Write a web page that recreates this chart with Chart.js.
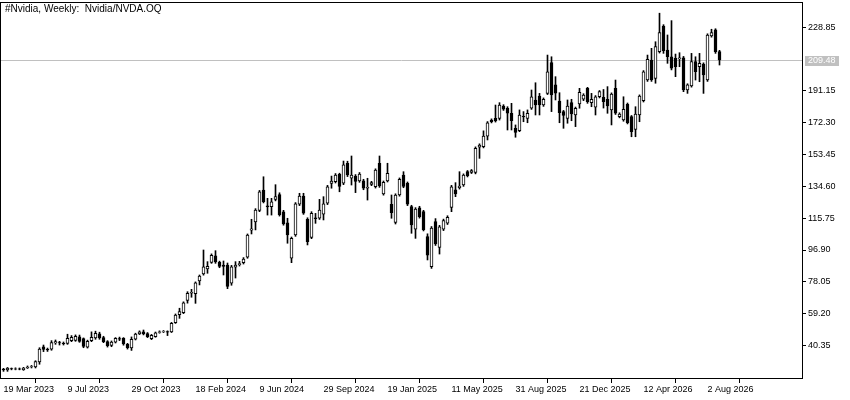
<!DOCTYPE html>
<html><head><meta charset="utf-8">
<style>html,body{margin:0;padding:0;background:#fff;}#wrap{width:850px;height:400px;}</style>
<script src="https://cdn.jsdelivr.net/npm/chart.js@4.4.1/dist/chart.umd.min.js"></script>
</head><body><div id="wrap"><canvas id="c" width="850" height="400"></canvas></div>
<script>
// Weekly candles, first week = 19 Mar 2023
const opens = [
26.3,25.9,26.6,26.3,26.5,26.0,27.0,27.6,27.6,30.6,
39.5,38.0,38.1,41.8,42.0,41.6,41.6,43.2,43.4,45.5,
44.4,39.4,43.2,44.8,47.2,45.0,42.6,40.3,42.3,44.4,
44.5,41.0,38.9,44.0,47.2,48.4,47.4,44.4,45.6,48.0,
48.4,48.6,48.4,53.8,58.6,59.8,67.0,71.3,71.0,78.6,
82.7,85.7,89.6,93.4,89.6,88.0,88.0,77.3,86.7,88.2,
89.4,92.6,108.6,113.5,120.4,132.4,123.0,122.6,126.9,129.8,
119.5,113.0,92.0,105.8,124.0,128.9,115.1,104.4,116.0,115.7,
118.2,124.6,136.4,137.4,141.7,136.5,148.3,139.4,140.7,137.9,
137.9,133.6,135.8,134.4,148.3,130.1,137.9,124.0,113.2,129.5,
141.3,136.4,122.6,109.2,121.9,119.6,104.8,87.0,113.7,98.5,
109.2,112.8,122.2,132.5,133.8,135.4,143.3,142.9,142.8,157.8,
158.1,164.4,173.9,174.9,174.9,182.2,180.9,177.9,169.0,167.6,
176.1,174.9,180.9,185.8,188.1,182.8,189.7,207.9,194.7,185.2,
178.9,174.9,184.2,176.9,183.4,186.2,192.7,184.2,181.5,187.7,
187.4,186.2,179.9,192.7,175.9,173.9,183.2,175.9,168.4,176.9,
185.4,197.6,209.5,198.6,214.4,229.6,215.4,211.4,210.5,210.2,
210.8,191.7,194.1,208.5,205.5,207.1,197.6,223.7,227.3,214.4
];
const highs = [
26.8,27.3,27.0,27.1,27.0,27.4,28.2,28.5,31.3,39.0,
40.6,38.8,43.2,43.6,42.8,42.4,47.0,46.2,46.6,46.5,
44.8,43.5,48.4,48.8,48.2,45.8,43.2,43.0,45.0,45.3,
45.0,41.6,45.4,47.6,49.0,49.5,48.0,46.9,48.3,49.0,
49.2,49.0,54.0,59.0,62.4,66.2,72.2,73.6,78.0,82.1,
96.9,90.0,94.6,96.5,90.3,90.4,89.2,87.8,90.0,90.2,
92.4,106.4,115.1,121.4,132.2,140.3,127.5,127.5,135.6,130.8,
120.4,115.7,104.6,125.0,130.5,130.5,116.0,119.6,118.6,126.9,
128.5,135.2,140.7,142.2,142.4,149.6,149.5,152.6,141.6,142.8,
138.8,139.4,137.6,145.0,152.6,137.8,148.3,129.5,130.2,139.6,
143.3,137.2,123.4,122.0,122.8,120.4,106.5,110.8,115.5,111.5,
115.2,117.2,135.2,136.8,143.3,142.0,144.0,144.6,158.0,159.8,
167.5,173.0,174.6,182.8,184.2,183.0,181.8,183.8,171.0,179.9,
178.9,179.9,191.7,196.0,189.7,187.0,212.4,211.4,199.6,190.1,
179.6,185.8,186.2,181.6,192.7,189.5,193.3,189.7,188.4,191.4,
192.0,193.7,190.0,197.6,178.2,187.7,184.0,176.6,181.8,188.8,
203.2,212.4,216.4,220.3,237.2,230.4,224.3,232.8,213.0,213.8,
211.6,195.4,213.4,211.4,213.4,207.8,225.0,227.7,228.0,215.2
];
const lows = [
25.0,25.0,25.9,25.9,25.9,25.6,26.7,27.0,27.0,29.2,
36.7,36.8,37.5,41.0,40.6,40.6,41.0,42.6,42.8,42.2,
39.0,38.8,42.6,44.0,44.0,42.0,39.4,39.6,41.8,43.2,
40.5,38.2,37.4,43.6,46.8,46.6,45.0,43.8,45.2,47.6,
48.0,46.2,48.0,53.4,56.4,59.2,65.4,68.9,65.3,76.2,
82.0,83.1,89.0,89.0,86.4,82.1,74.0,76.0,80.3,87.4,
88.6,92.0,106.4,108.8,119.6,124.8,117.6,117.6,126.0,117.0,
111.6,100.9,89.4,105.0,123.2,118.0,99.9,103.6,112.7,115.0,
114.7,123.8,133.5,136.6,131.4,135.6,140.4,135.4,130.9,137.0,
132.6,126.5,135.0,133.6,134.0,129.4,137.2,115.7,112.3,128.8,
133.8,123.2,106.8,103.8,115.8,108.2,91.0,86.0,99.6,94.5,
108.4,112.0,119.6,128.5,133.0,134.6,140.2,142.2,142.0,151.2,
157.4,162.1,172.2,172.7,173.9,179.6,168.0,168.0,163.7,167.0,
172.9,172.3,180.2,176.9,176.9,182.0,189.0,178.9,185.8,172.3,
169.0,172.0,173.5,170.0,180.9,185.4,183.8,181.8,176.9,187.0,
181.0,177.9,171.0,177.2,175.2,173.2,171.6,164.0,164.0,172.9,
184.6,196.8,196.8,195.7,213.6,213.4,207.5,203.6,199.6,205.5,
190.7,189.7,193.4,197.6,196.6,189.7,196.8,223.0,213.4,206.5
];
const closes = [
25.8,26.9,26.4,26.5,26.3,27.0,27.6,27.8,30.8,38.2,
38.0,37.7,42.0,42.6,41.8,41.4,44.6,45.2,45.8,42.8,
39.7,42.8,45.2,47.6,44.8,42.6,40.2,42.4,44.5,44.0,
41.2,39.0,44.0,47.1,48.4,47.2,45.6,46.4,47.8,48.4,
48.6,48.2,53.5,58.4,60.4,65.6,71.3,71.8,77.4,81.4,
87.0,87.3,93.8,89.8,87.1,87.1,75.3,87.0,88.0,88.8,
91.5,105.8,109.4,120.6,131.3,125.6,122.4,125.5,128.5,117.8,
112.4,105.8,103.8,124.2,128.9,118.7,101.9,118.6,115.5,120.6,
124.2,134.4,137.8,141.3,134.5,147.3,141.4,141.3,137.5,141.9,
133.5,134.0,136.8,144.3,134.8,137.0,142.3,119.0,129.5,138.8,
134.5,124.0,111.8,121.1,116.6,109.0,93.8,109.9,100.5,110.7,
114.4,116.3,134.4,130.2,134.8,141.3,141.0,143.9,157.2,159.1,
164.4,172.3,173.0,173.4,182.8,180.4,178.0,173.5,166.5,176.9,
175.7,177.9,187.7,182.9,182.9,186.2,202.5,188.8,189.8,178.3,
176.6,182.2,177.6,180.9,190.3,188.7,184.8,186.2,187.7,190.7,
184.8,182.2,189.3,177.9,177.5,180.3,172.3,167.0,177.5,188.1,
202.5,209.9,197.6,217.4,225.7,215.0,211.4,204.6,205.5,210.7,
191.7,194.7,208.5,202.5,207.5,200.6,224.3,225.7,214.4,209.48
];
const xTickLabels = ['19 Mar 2023','9 Jul 2023','29 Oct 2023','18 Feb 2024','9 Jun 2024','29 Sep 2024','19 Jan 2025','11 May 2025','31 Aug 2025','21 Dec 2025','12 Apr 2026','2 Aug 2026'];
const weeksPerTick = 16;
const yTickValues = [40.35,59.20,78.05,96.90,115.75,134.60,153.45,172.30,191.15,228.85];
const lastPrice = 209.48;
const chartTitle = '#Nvidia, Weekly:  Nvidia/NVDA.OQ';

const FONT_FAMILY = "'Liberation Sans', Arial, sans-serif";
const FONT = {family: FONT_FAMILY, size: 9};

const bodies = opens.map((o, i) => ({x: i, y: [o, closes[i]]}));
const wicks = lows.map((l, i) => ({x: i, y: [l, highs[i]]}));
const bodyColors = opens.map((o, i) => closes[i] >= o ? '#ffffff' : '#000000');

const decor = {
  id: 'decor',
  beforeDraw(chart) {
    const c = chart.ctx;
    c.save();
    c.fillStyle = '#ffffff';
    c.fillRect(0, 0, chart.width, chart.height);
    c.restore();
  },
  beforeDatasetsDraw(chart) {
    const c = chart.ctx, a = chart.chartArea;
    const y = Math.round(chart.scales.y.getPixelForValue(lastPrice)) + 0.5;
    c.save();
    c.strokeStyle = '#c0c0c0';
    c.lineWidth = 1;
    c.beginPath();
    c.moveTo(a.left, y);
    c.lineTo(a.right, y);
    c.stroke();
    c.restore();
  },
  afterDraw(chart) {
    const c = chart.ctx, a = chart.chartArea;
    c.save();
    c.strokeStyle = '#000000';
    c.lineWidth = 1;
    c.strokeRect(Math.round(a.left) - 0.5, Math.round(a.top) + 0.5, Math.round(a.right - a.left) + 1, Math.round(a.bottom - a.top) - 1);
    // last price label
    const y = Math.round(chart.scales.y.getPixelForValue(lastPrice));
    c.fillStyle = '#c0c0c0';
    c.fillRect(a.right + 3, y - 4, 34, 10);
    c.fillStyle = '#ffffff';
    c.font = '9px ' + FONT_FAMILY;
    c.textBaseline = 'middle';
    c.textAlign = 'left';
    c.fillText(lastPrice.toFixed(2), a.right + 6, y + 1);
    // title
    c.fillStyle = '#000000';
    c.font = '10px ' + FONT_FAMILY;
    c.fillText(chartTitle, a.left + 4, a.top + 7);
    c.restore();
  }
};

new Chart(document.getElementById('c'), {
  type: 'bar',
  data: {
    datasets: [
      {label: 'body', data: bodies, order: 1, grouped: false, barThickness: 3,
       borderWidth: 1, borderColor: '#000000', borderSkipped: false, backgroundColor: bodyColors},
      {label: 'wick', data: wicks, order: 2, grouped: false, barThickness: 1,
       borderWidth: 0, backgroundColor: '#000000'}
    ]
  },
  options: {
    responsive: false, animation: false, devicePixelRatio: 1,
    layout: {padding: {left: 1, top: 2, right: 0, bottom: 0}},
    plugins: {legend: {display: false}, tooltip: {enabled: false}, title: {display: false}},
    scales: {
      x: {
        type: 'linear', min: -0.625, max: 199.625, offset: false,
        afterBuildTicks: s => { s.ticks = xTickLabels.map((_, k) => ({value: k * weeksPerTick})); },
        afterFit: s => { s.height = 21; s.paddingLeft = 0; s.paddingRight = 0; },
        ticks: {autoSkip: false, maxRotation: 0, minRotation: 0, align: 'start', padding: 1,
                color: '#000000', font: FONT,
                callback: v => xTickLabels[Math.round(v / weeksPerTick)] || ''},
        grid: {drawOnChartArea: false, drawTicks: true, tickLength: 4, tickColor: '#000000'},
        border: {display: false}
      },
      y: {
        position: 'right', min: 20.47, max: 243.84,
        afterBuildTicks: s => { s.ticks = yTickValues.map(v => ({value: v})); },
        afterFit: s => { s.width = 48; s.paddingTop = 0; s.paddingBottom = 0; },
        ticks: {padding: 2, color: '#000000', font: FONT, callback: v => Number(v).toFixed(2)},
        grid: {drawOnChartArea: false, drawTicks: true, tickLength: 4, tickColor: '#000000'},
        border: {display: false}
      }
    }
  },
  plugins: [decor]
});
</script>
</body></html>
